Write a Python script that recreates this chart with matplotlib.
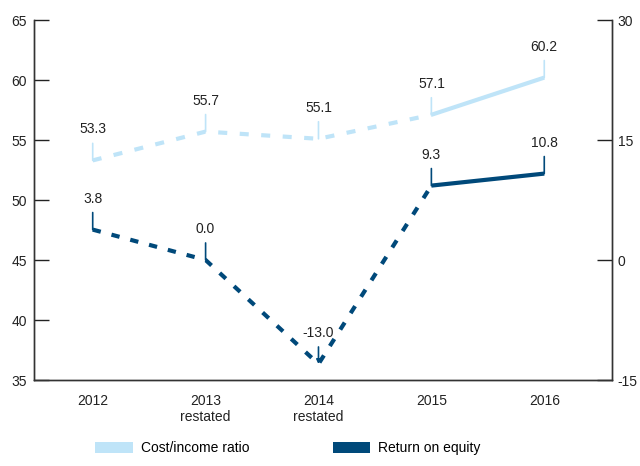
import matplotlib.pyplot as plt
from matplotlib.patches import Patch

years = ['2012', '2013\nrestated', '2014\nrestated', '2015', '2016']
cost_income = [53.3, 55.7, 55.1, 57.1, 60.2]
roe = [3.8, 0.0, -13.0, 9.3, 10.8]

light = '#bfe4f8'
dark = '#00497a'

plt.rcParams['font.family'] = ['Liberation Sans', 'DejaVu Sans']
plt.rcParams['font.size'] = 10
plt.rcParams['lines.scale_dashes'] = False
plt.rcParams['axes.unicode_minus'] = False

fig = plt.figure(figsize=(6.4, 4.66), dpi=100)
ax = fig.add_axes([34 / 640, 86 / 466, 578 / 640, 360 / 466])
ax2 = ax.twinx()

x = list(range(len(years)))

# dashed up to 2015, solid for the last year
ax.plot(x[:4], cost_income[:4], color=light, lw=3, dashes=(6.5, 9), dash_capstyle='butt')
ax.plot(x[3:], cost_income[3:], color=light, lw=3, solid_capstyle='butt')
ax2.plot(x[:4], roe[:4], color=dark, lw=3, dashes=(6, 8), dash_capstyle='butt')
ax2.plot(x[3:], roe[3:], color=dark, lw=3, solid_capstyle='butt')

for i, v in enumerate(cost_income):
    ax.annotate(f'{v:.1f}', xy=(i, v), xytext=(0, 24), textcoords='offset pixels',
                ha='center', va='bottom', color='#222222',
                arrowprops=dict(arrowstyle='-', color=light, lw=1.2, shrinkA=3, shrinkB=0))

for i, v in enumerate(roe):
    style = '-|>' if v < 0 else '-'
    ax2.annotate(f'{v:.1f}', xy=(i, v), xytext=(0, 24), textcoords='offset pixels',
                 ha='center', va='bottom', color='#222222',
                 arrowprops=dict(arrowstyle=style, color=dark, lw=1.2, shrinkA=3, shrinkB=0,
                                 mutation_scale=6))

ax.set_xlim(-0.52, 4.6)
ax.set_ylim(35, 65)
ax.set_yticks([35, 40, 45, 50, 55, 60, 65])
ax2.set_ylim(-15, 30)
ax2.set_yticks([-15, 0, 15, 30])

ax.set_xticks(x)
ax.set_xticklabels(years)
ax.tick_params(axis='x', length=0, pad=10, colors='#222222')
ax.tick_params(axis='y', direction='in', length=11, width=1, pad=5, colors='#222222')
ax2.tick_params(axis='y', direction='in', length=11, width=1, pad=4, colors='#222222')

for a in (ax, ax2):
    a.spines['top'].set_visible(False)
    for s in ('left', 'right', 'bottom'):
        a.spines[s].set_color('#333333')
        a.spines[s].set_linewidth(1)

handles = [Patch(facecolor=light, edgecolor='none', label='Cost/income ratio'),
           Patch(facecolor=dark, edgecolor='none', label='Return on equity')]
fig.legend(handles=handles, loc='center left', bbox_to_anchor=(95 / 640, 18 / 466),
           ncol=2, frameon=False, borderpad=0, borderaxespad=0,
           handlelength=2.7, handleheight=0.85, handletextpad=0.6, columnspacing=6.0)

fig.savefig('out.png', dpi=100)
